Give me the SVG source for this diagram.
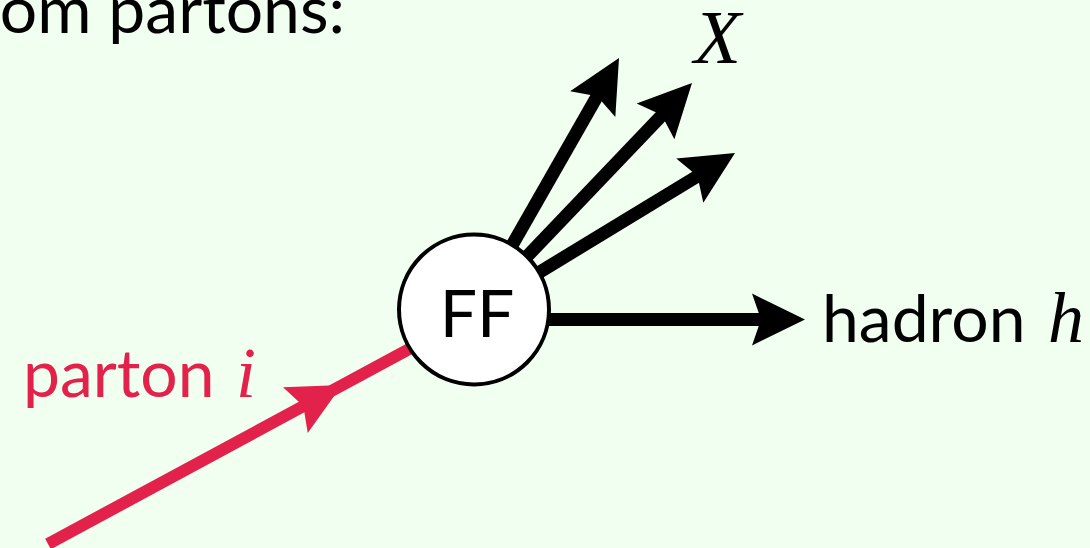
<svg xmlns="http://www.w3.org/2000/svg" width="1090" height="548" viewBox="0 0 1090 548">
  <style>
    .sans { font-family: Lato, "Noto Sans", "Liberation Sans", sans-serif; font-size: 66px; }
    .math { font-family: "Liberation Serif", "DejaVu Serif", serif; font-style: italic; }
    .blk { stroke: #000; stroke-width: 13; fill: none; }
    .red { stroke: #e2224a; stroke-width: 12; fill: none; }
  </style>
  <defs>
    <path id="head" d="M0,0 L-53,-26 L-44,0 L-53,26 Z"/>
  </defs>
  <rect width="1090" height="548" fill="#f0fff0"/>
  <text class="sans" x="345" y="33" text-anchor="end" fill="#000">om partons:</text>
  <g id="connectors">
    <line class="red" x1="48" y1="544" x2="474" y2="314"/>
    <use href="#head" fill="#e2224a" transform="translate(342,385) rotate(-28.4)"/>
    <line class="blk" x1="474" y1="312" x2="599" y2="93"/>
    <use href="#head" transform="translate(619,58) rotate(-60.3)"/>
    <line class="blk" x1="474" y1="312" x2="665" y2="112"/>
    <use href="#head" transform="translate(692,83) rotate(-46.5)"/>
    <line class="blk" x1="474" y1="312" x2="701" y2="174"/>
    <use href="#head" transform="translate(735,153) rotate(-31.4)"/>
    <line class="blk" x1="474" y1="319.5" x2="765" y2="319.5"/>
    <use href="#head" transform="translate(805,319.5)"/>
  </g>
  <g id="ff">
    <circle cx="474" cy="309.5" r="75" fill="#fff" stroke="#000" stroke-width="4"/>
    <text class="sans" x="477" y="337" font-size="64" text-anchor="middle" fill="#000">FF</text>
  </g>
  <g id="parton">
    <text class="sans" x="23" y="397" fill="#e2224a">parton</text>
    <text class="math" x="236" y="397" font-size="72" fill="#e2224a">i</text>
  </g>
  <g id="hadron">
    <text class="sans" x="822" y="342" fill="#000">hadron</text>
    <text class="math" x="1048" y="342" font-size="72" fill="#000">h</text>
  </g>
  <g id="x">
    <text class="math" x="694" y="63" font-size="77" fill="#000">X</text>
  </g>
</svg>
